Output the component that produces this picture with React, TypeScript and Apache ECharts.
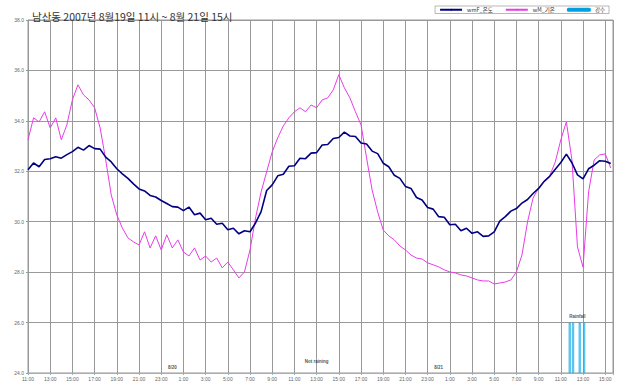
import React, { useEffect, useRef } from "react";
import * as echarts from "echarts";

// time step between readings, in hours from 8/19 11:00
const STEP_HOURS = 0.5;

// wM_기온 (magenta) readings every 30 min from 8/19 11:00
const airTemp = [
  33.25, 34.12, 33.96, 34.36, 33.72, 34.12, 33.25, 33.84, 34.83, 35.43,
  35.03, 34.83, 34.52, 33.72, 32.45, 31.06, 30.27, 29.75, 29.36, 29.2,
  29.08, 29.6, 28.96, 29.44, 28.88, 29.48, 28.96, 29.28, 28.8, 28.64,
  28.96, 28.48, 28.64, 28.4, 28.56, 28.17, 28.4, 28.09, 27.77, 28.01,
  28.88, 30.15, 31.18, 31.98, 32.77, 33.33, 33.8, 34.12, 34.36, 34.52,
  34.36, 34.63, 34.52, 34.83, 34.91, 35.23, 35.83, 35.31, 34.91, 34.36,
  33.84, 32.53, 31.26, 30.39, 29.67, 29.44, 29.28, 29.04, 28.88, 28.68,
  28.56, 28.52, 28.37, 28.29, 28.21, 28.09, 28.01, 27.97, 27.89, 27.85,
  27.77, 27.69, 27.65, 27.65, 27.53, 27.57, 27.61, 27.69, 28.01, 28.68,
  29.99, 30.94, 31.34, 31.62, 31.82, 32.37, 33.25, 33.96, 32.45, 29.0,
  28.2, 31.18, 32.45, 32.65, 32.69, 32.13,
];

// wmF_온도 (navy) readings every 30 min from 8/19 11:00
const surfaceTemp = [
  32.06, 32.33, 32.18, 32.47, 32.5, 32.58, 32.52, 32.66, 32.78, 32.95,
  32.84, 33.02, 32.9, 32.88, 32.56, 32.37, 32.1, 31.9, 31.72, 31.5,
  31.3, 31.22, 31.04, 30.98, 30.84, 30.72, 30.6, 30.58, 30.44, 30.58,
  30.28, 30.34, 30.08, 30.14, 29.9, 29.94, 29.68, 29.74, 29.52, 29.64,
  29.6, 29.95, 30.4, 31.24, 31.46, 31.82, 31.88, 32.2, 32.22, 32.52,
  32.5, 32.72, 32.74, 33.04, 33.06, 33.3, 33.34, 33.55, 33.4, 33.38,
  33.12, 33.08, 32.8, 32.7, 32.32, 32.18, 31.84, 31.72, 31.4, 31.32,
  30.96, 30.86, 30.56, 30.5, 30.2, 30.18, 29.88, 29.9, 29.64, 29.74,
  29.54, 29.6, 29.42, 29.44, 29.6, 30.02, 30.2, 30.42, 30.52, 30.74,
  30.88, 31.12, 31.32, 31.6, 31.8, 32.08, 32.35, 32.68, 32.34, 31.86,
  31.7, 32.1, 32.24, 32.42, 32.4, 32.31,
];

// 강수 (rain) events: hours from 8/19 11:00 and amount
const rainHours = [48.8, 49.1, 49.7, 50.1];
const rainAmount = [1, 1, 1, 1];

// annotations
const noteLabels = ["8/20", "8/21", "Not raining", "Rainfall"];
const noteHours = [13, 37, 26, 49.5];
const noteValues = [24.2, 24.2, 24.45, 26.25];

const seriesNames = ["wmF_온도", "wM_기온", "강수"];
const titleText = "남산동 2007년 8월19일 11시 ~ 8월 21일 15시";

const START_HOUR = 11;
const X_MAX = 52.7;

export default function App() {
  const ref = useRef<HTMLDivElement>(null);
  useEffect(() => {
    if (!ref.current) return;
    const chart = echarts.init(ref.current, null, { renderer: "svg" });
    const toPairs = (arr: number[]) => arr.map((v, i) => [i * STEP_HOURS, v]);
    chart.setOption({
      animation: false,
      backgroundColor: "#ffffff",
      title: {
        text: titleText,
        left: 27,
        top: 6,
        textStyle: {
          fontFamily: "Noto Sans CJK KR",
          fontSize: 10.5,
          fontWeight: "normal",
          color: "#333",
        },
      },
      legend: {
        data: seriesNames,
        right: 12,
        top: 6,
        itemWidth: 22,
        itemHeight: 2,
        itemGap: 12,
        padding: [1, 4],
        borderColor: "#888",
        borderWidth: 0.6,
        textStyle: { fontSize: 5.5, color: "#333", fontFamily: "Noto Sans CJK KR" },
      },
      grid: {
        left: 28,
        right: 8,
        top: 20,
        bottom: 10,
        show: true,
        borderColor: "#999",
        borderWidth: 1,
      },
      xAxis: {
        type: "value",
        min: 0,
        max: X_MAX,
        interval: 2,
        axisLine: { show: true, lineStyle: { color: "#88b8d0", width: 1.2 } },
        axisTick: { show: true, length: 2, lineStyle: { color: "#88b8d0" } },
        axisLabel: {
          fontSize: 5,
          color: "#666",
          margin: 3,
          formatter: (v: number) =>
            Number.isInteger(v) ? `${(START_HOUR + v) % 24}:00` : "",
        },
        splitLine: { show: true, lineStyle: { color: "#999", width: 1 } },
      },
      yAxis: [
        {
          type: "value",
          min: 24,
          max: 38,
          interval: 2,
          axisLine: { show: true, lineStyle: { color: "#999" } },
          axisTick: { show: true, length: 2, lineStyle: { color: "#999" } },
          axisLabel: {
            fontSize: 5,
            color: "#666",
            margin: 4,
            formatter: (v: number) => v.toFixed(1),
          },
          splitLine: { show: true, lineStyle: { color: "#999", width: 1 } },
        },
        {
          type: "value",
          min: 0,
          max: 7,
          show: false,
          splitLine: { show: false },
        },
      ],
      series: [
        {
          name: seriesNames[0],
          type: "line",
          data: toPairs(surfaceTemp),
          showSymbol: false,
          symbol: "none",
          lineStyle: { color: "#000080", width: 1.6 },
          itemStyle: { color: "#000080" },
          z: 3,
        },
        {
          name: seriesNames[1],
          type: "line",
          data: toPairs(airTemp),
          showSymbol: false,
          symbol: "none",
          lineStyle: { color: "#e83be8", width: 1 },
          itemStyle: { color: "#e83be8" },
          z: 2,
        },
        {
          name: seriesNames[2],
          type: "bar",
          yAxisIndex: 1,
          barWidth: 2,
          data: rainHours.map((h, i) => [h, rainAmount[i]]),
          itemStyle: { color: "#7fe0ff", borderColor: "#00a0e0", borderWidth: 0.6 },
          z: 1,
        },
        {
          type: "scatter",
          symbolSize: 0,
          silent: true,
          data: noteLabels.map((n, i) => ({ name: n, value: [noteHours[i], noteValues[i]] })),
          label: {
            show: true,
            position: "inside",
            formatter: (p: any) => p.name,
            fontSize: 4.5,
            color: "#222",
            fontWeight: "bold",
          },
          z: 5,
        },
      ],
    });
    return () => chart.dispose();
  }, []);
  return (
    <div
      ref={ref}
      style={{ position: "fixed", left: 0, top: 0, width: 621, height: 383 }}
    />
  );
}
